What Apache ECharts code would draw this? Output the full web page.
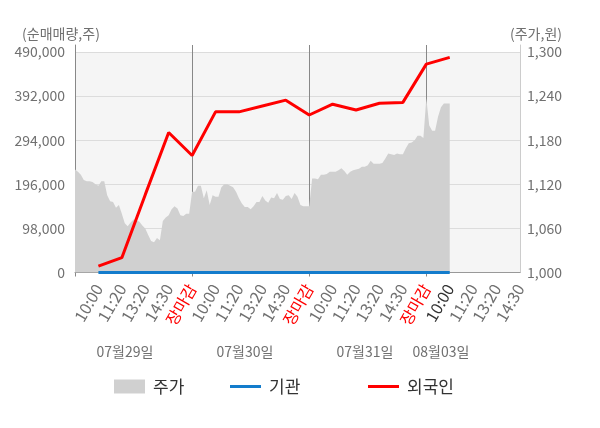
<!DOCTYPE html>
<html>
<head>
<meta charset="utf-8">
<script src="https://cdn.jsdelivr.net/npm/echarts@6/dist/echarts.min.js"></script>
<style>html,body{margin:0;padding:0;background:#fff;}#c{width:600px;height:428px;}</style>
</head>
<body>
<div id="c"></div>
<script>
// ---- data ----
const timeLabels = ['10:00', '11:20', '13:20', '14:30', '장마감'];
const dayLabels = ['07월29일', '07월30일', '07월31일', '08월03일'];
const slotsPerLabel = 8;
const slotCount = 153;

const priceDay1 = [1140,1137,1133,1126,1124,1124,1123,1120,1118,1124,1124,1105,1097,1096,1088,1092,1080,1067,1063,1068,1072,1071,1069,1064,1060,1051,1043,1041,1047,1044,1070,1075,1078,1086,1090,1087,1078,1077,1080,1080];
const priceDay2 = [1110,1110,1118,1118,1101,1112,1092,1105,1103,1103,1116,1120,1120,1118,1116,1110,1101,1094,1089,1089,1086,1090,1096,1096,1104,1098,1095,1102,1101,1108,1100,1099,1104,1105,1100,1108,1103,1092,1090,1090];
const priceDay3 = [1090,1128,1128,1127,1133,1133,1134,1137,1137,1137,1139,1142,1138,1133,1137,1139,1140,1141,1144,1144,1146,1152,1148,1148,1148,1149,1155,1162,1161,1160,1162,1161,1161,1169,1176,1177,1180,1186,1186,1183];
const priceDay4 = [1237,1200,1193,1193,1212,1225,1230,1230,1230];

const foreign = [14000, 33000, 173000, 311000, 260000, 357000, 357000, 370000, 383000, 350000, 374000, 361000, 376000, 378000, 463000, 478000];
const institution = [0, 0, 0, 0, 0, 0, 0, 0, 0, 0, 0, 0, 0, 0, 0, 0];

// ---- build ----
const slots = Array.from({length: slotCount}, (_, i) => String(i));
const price = priceDay1.concat(priceDay2, priceDay3, priceDay4);
const atLabels = arr => arr.map((v, k) => [slotsPerLabel * (k + 1), v]);
const fmt = v => Number(v).toLocaleString('en-US');
const FONT = '"Noto Sans CJK KR", "Noto Sans", sans-serif';
const dayLen = slotsPerLabel * 5;

// plot box: value area from y=52 to y=272.5; axis lines extend up to y=45
const plotTop = 52, lineTop = 45, plotBottom = 155.5;
const plotH = 428 - plotBottom - plotTop;
const stretch = (428 - plotBottom - lineTop) / plotH;
const leftMax = 490000 * stretch;
const rightMax = 1000 + 300 * stretch;

const chart = echarts.init(document.getElementById('c'));
const legendBase = {
  top: 378, itemWidth: 31, itemHeight: 14, itemGap: 0, padding: 0,
  itemStyle: {borderWidth: 0},
  textStyle: {fontSize: 17, color: '#333', padding: [0, 0, 0, 3], fontFamily: FONT}
};
const lineIcon = 'path://M0,0H31V3H0Z';
const txt = (t, x, y) => ({type: 'text', x: x, y: y, style: {text: t, fill: '#707070', font: '14px ' + FONT, align: 'center', verticalAlign: 'middle'}});
const gridCol = '#dcdcdc';
chart.setOption({
  animation: false,
  textStyle: {fontFamily: FONT},
  grid: [
    {left: 75, right: 80, top: plotTop, bottom: plotBottom, show: true, backgroundColor: '#f5f5f5', borderWidth: 0},
    {left: 75, right: 80, top: lineTop, bottom: plotBottom, show: false}
  ],
  legend: [
    Object.assign({}, legendBase, {left: 114, data: [{name: '주가', icon: 'rect'}]}),
    Object.assign({}, legendBase, {left: 230, data: [{name: '기관', icon: lineIcon}]}),
    Object.assign({}, legendBase, {left: 368, data: [{name: '외국인', icon: lineIcon}]})
  ],
  graphic: [
    txt('(순매매량,주)', 61, 34),
    txt('(주가,원)', 536, 34),
    txt(dayLabels[0], 125, 352),
    txt(dayLabels[1], 245, 352),
    txt(dayLabels[2], 365, 352),
    txt(dayLabels[3], 441, 352)
  ],
  xAxis: [
    {gridIndex: 0, type: 'value', min: 0, max: 1, show: false},
    {
      gridIndex: 1, type: 'category', data: slots, boundaryGap: false, offset: 3,
      axisLine: {lineStyle: {color: '#999'}},
      axisTick: {show: true, length: 4, interval: i => i % dayLen === 0, lineStyle: {color: '#888'}},
      splitLine: {show: true, interval: i => i > 0 && i % dayLen === 0, lineStyle: {color: '#888'}},
      axisLabel: {
        rotate: 60, fontSize: 16, margin: 10,
        interval: i => i > 0 && i % slotsPerLabel === 0,
        formatter: v => timeLabels[(Number(v) / slotsPerLabel - 1) % 5],
        color: v => {
          const k = Number(v) / slotsPerLabel;
          if (k % 5 === 0) return '#ff0000';
          if (k === 16) return '#333333';
          return '#707070';
        }
      }
    }
  ],
  yAxis: [
    {gridIndex: 0, type: 'value', min: 0, max: 1, show: false},
    {
      gridIndex: 1, type: 'value', min: 0, max: leftMax, interval: 98000, position: 'left',
      axisLine: {show: true, lineStyle: {color: '#888'}}, axisTick: {show: false},
      axisLabel: {color: '#707070', fontSize: 14, margin: 10, formatter: fmt, showMaxLabel: false},
      splitLine: {lineStyle: {color: [gridCol, gridCol, gridCol, gridCol, gridCol, gridCol, 'rgba(0,0,0,0)']}}
    },
    {
      gridIndex: 1, type: 'value', min: 1000, max: rightMax, interval: 60, position: 'right',
      axisLine: {show: true, lineStyle: {color: '#cccccc'}}, axisTick: {show: false},
      axisLabel: {color: '#707070', fontSize: 14, margin: 7, formatter: fmt, showMaxLabel: false},
      splitLine: {show: false}
    }
  ],
  series: [
    {name: '주가', type: 'line', xAxisIndex: 1, yAxisIndex: 2, data: price, symbol: 'none', color: '#d0d0d0',
     lineStyle: {width: 0}, areaStyle: {color: '#d0d0d0', opacity: 1}, z: 1},
    {name: '기관', type: 'line', xAxisIndex: 1, yAxisIndex: 1, data: atLabels(institution), symbol: 'none', color: '#137ccc',
     lineStyle: {width: 3, color: '#137ccc'}, z: 3},
    {name: '외국인', type: 'line', xAxisIndex: 1, yAxisIndex: 1, data: atLabels(foreign), symbol: 'none', color: '#ff0000',
     lineStyle: {width: 3, color: '#ff0000'}, z: 4}
  ]
});
</script>
</body>
</html>
